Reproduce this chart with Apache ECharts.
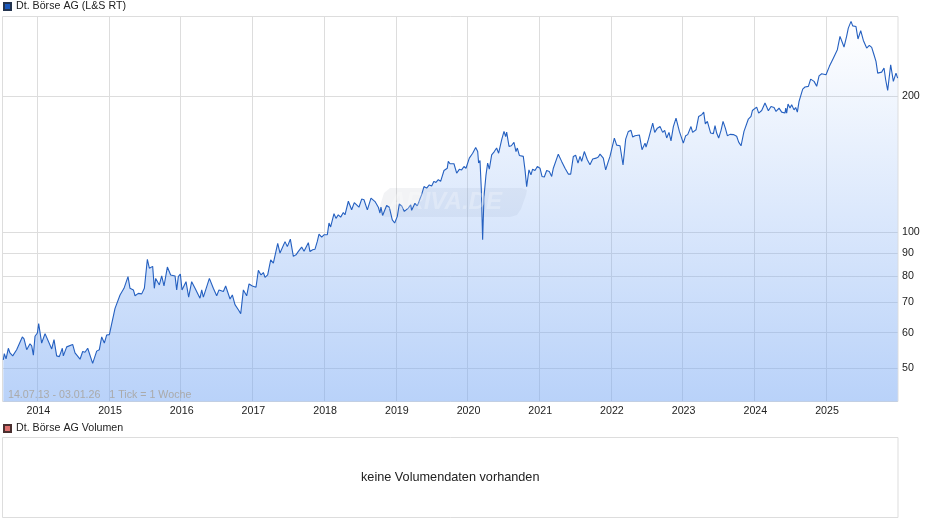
<!DOCTYPE html>
<html><head><meta charset="utf-8">
<style>html,body{margin:0;padding:0;background:#fff}#c{width:940px;height:526px}</style>
<script src="https://cdn.jsdelivr.net/npm/echarts@6/dist/echarts.min.js"></script>
</head><body><div id="c"></div>
<script>
const priceName = 'Dt. Börse AG (L&S RT)';
const volumeName = 'Dt. Börse AG Volumen';
const rangeText = '14.07.13 - 03.01.26   1 Tick = 1 Woche';
const noVolumeText = 'keine Volumendaten vorhanden';
const yearTicks = [2014,2015,2016,2017,2018,2019,2020,2021,2022,2023,2024,2025];
const priceTicks = [50,60,70,80,90,100,200];
const years = [
2013.526,2013.540,2013.564,2013.596,2013.619,2013.657,2013.712,2013.736,2013.791,2013.815,2013.852,2013.898,2013.922,2013.945,2013.968,2014.001,2014.019,2014.061,2014.108,2014.131,2014.201,2014.233,2014.270,2014.307,2014.349,2014.363,2014.410,2014.493,2014.526,2014.549,2014.596,2014.633,2014.665,2014.703,2014.772,2014.828,2014.865,2014.898,2014.935,2014.968,
2015.005,2015.084,2015.154,2015.209,2015.265,2015.293,2015.340,2015.363,2015.409,2015.456,2015.493,2015.535,2015.563,2015.609,2015.632,2015.651,2015.702,2015.735,2015.767,2015.814,2015.860,2015.921,2015.944,2015.967,2015.995,
2016.018,2016.074,2016.111,2016.153,2016.200,2016.223,2016.269,2016.293,2016.316,2016.400,2016.455,2016.502,2016.534,2016.595,2016.627,2016.688,2016.720,2016.757,2016.804,2016.837,2016.874,2016.920,2016.953,2016.999,
2017.050,2017.083,2017.120,2017.153,2017.176,2017.213,2017.255,2017.292,2017.353,2017.385,2017.455,2017.487,2017.529,2017.571,2017.608,2017.641,2017.687,2017.720,2017.780,
2017.803,2017.840,2017.873,2017.905,2017.929,2017.966,2017.998,2018.045,2018.068,2018.091,2018.138,2018.166,2018.198,2018.231,2018.268,2018.291,2018.338,2018.384,2018.421,2018.486,2018.524,2018.556,2018.603,2018.654,2018.710,2018.756,2018.779,2018.793,2018.816,2018.872,2018.909,2018.951,2018.984,
2019.021,2019.049,2019.081,2019.119,2019.174,2019.207,2019.221,2019.267,2019.300,2019.360,2019.393,2019.430,2019.467,2019.500,2019.532,2019.560,2019.593,2019.625,2019.672,2019.718,2019.732,2019.756,2019.811,2019.849,2019.886,2019.918,2019.951,2019.979,
2020.025,2020.072,2020.114,2020.142,2020.155,2020.174,2020.193,2020.211,2020.230,2020.258,2020.281,2020.304,2020.337,2020.374,2020.406,2020.434,2020.476,2020.509,2020.532,2020.546,2020.579,2020.611,2020.648,2020.676,2020.695,2020.723,2020.778,2020.802,2020.825,2020.857,2020.885,2020.908,2020.941,2020.974,
2021.011,2021.039,2021.071,2021.104,2021.141,2021.174,2021.197,2021.220,2021.266,2021.313,2021.360,2021.406,2021.439,2021.476,2021.508,2021.541,2021.569,2021.592,2021.629,2021.671,2021.708,2021.746,2021.792,2021.824,2021.848,2021.894,2021.927,2021.964,2021.987,
2022.010,2022.048,2022.080,2022.127,2022.169,2022.206,2022.243,2022.280,2022.304,2022.336,2022.397,2022.434,2022.476,2022.490,2022.522,2022.545,2022.583,2022.611,2022.648,2022.685,2022.722,2022.750,2022.778,2022.810,2022.838,2022.871,2022.908,2022.955,
2023.010,2023.043,2023.071,2023.117,2023.140,2023.187,2023.224,2023.266,2023.294,2023.317,2023.345,2023.391,2023.429,2023.452,2023.475,2023.503,2023.536,2023.564,2023.596,2023.624,2023.661,2023.708,2023.754,2023.782,2023.815,2023.856,2023.917,2023.954,2023.973,
2024.033,2024.061,2024.103,2024.149,2024.196,2024.233,2024.275,2024.303,2024.345,2024.382,2024.428,2024.438,2024.451,2024.470,2024.498,2024.521,2024.554,2024.577,2024.600,2024.624,2024.675,2024.707,2024.754,2024.786,2024.833,2024.870,2024.903,2024.940,
2025.000,2025.047,2025.102,2025.158,2025.195,2025.219,2025.251,2025.288,2025.311,2025.349,2025.372,2025.395,2025.418,2025.446,2025.484,2025.521,2025.535,2025.567,2025.604,2025.637,2025.669,2025.697,2025.721,2025.744,2025.776,2025.800,2025.809,2025.832,2025.860,2025.902,2025.939,2025.976,2025.999
];
const prices = [
52.2,53.9,52.5,55.4,54.1,53.3,55.0,54.8,58.7,58.1,55.0,56.7,56.1,53.5,58.9,59.9,62.8,56.9,59.7,59.4,55.2,57.9,53.3,53.1,55.4,53.3,55.8,56.5,54.1,54.3,52.4,54.5,54.3,55.4,51.3,54.6,55.0,58.7,56.9,59.3,
59.4,67.9,72.7,75.2,79.8,75.2,74.6,72.4,73.3,73.1,75.2,87.2,83.3,84.1,75.2,79.1,76.5,80.1,76.1,83.8,80.5,80.1,74.6,79.8,80.9,
74.6,77.8,71.9,77.8,75.2,74.6,71.5,74.6,71.9,79.1,75.2,72.4,74.6,74.0,76.1,71.2,72.7,69.2,67.4,66.1,74.6,72.4,76.9,76.1,
75.6,82.4,80.5,81.5,79.5,80.5,86.9,85.5,94.6,90.0,95.4,93.0,96.6,88.5,89.2,90.8,92.8,90.8,94.9,
90.7,91.5,91.8,95.5,99.1,97.6,98.8,98.8,104.9,102.8,110.0,107.4,109.4,108.1,110.7,109.4,117.2,112.2,116.4,113.7,118.5,118.1,112.2,119.1,117.0,113.7,110.4,113.7,109.0,114.7,113.7,106.6,104.9,
108.5,115.6,114.5,111.3,113.2,115.1,111.9,116.0,114.5,121.2,126.3,125.3,127.4,126.7,129.7,129.0,130.8,129.7,137.1,138.7,143.6,141.9,141.9,135.3,137.9,137.5,139.9,138.7,
146.0,149.7,154.2,151.0,142.4,144.3,124.2,96.3,120.1,134.1,142.4,138.0,148.5,151.0,153.7,149.7,160.3,167.3,163.0,166.7,155.0,155.5,158.2,151.0,153.7,148.0,147.3,137.5,126.3,137.5,134.1,138.0,137.1,139.9,
138.7,133.0,132.6,137.1,136.4,133.0,138.7,137.5,149.0,143.6,138.7,134.6,134.6,147.3,148.2,142.4,147.3,143.6,151.0,144.8,141.2,145.3,146.0,146.8,149.0,146.0,137.5,143.6,147.3,
146.8,161.7,156.0,155.5,141.0,160.9,167.3,168.2,162.6,163.7,164.3,152.4,157.6,154.5,160.4,160.4,174.5,166.5,170.1,171.5,166.5,168.2,161.8,166.5,159.5,171.5,179.1,167.3,
157.6,163.7,164.6,171.5,166.5,168.7,180.6,182.1,184.6,173.9,176.1,165.9,165.4,172.4,165.9,161.8,168.2,176.1,170.1,163.7,164.8,164.6,163.2,158.4,155.5,167.3,178.2,180.6,186.1,
189.4,183.7,186.1,193.3,185.8,190.0,189.0,185.2,188.4,184.6,183.7,188.4,183.7,192.3,188.4,191.6,186.7,189.0,184.6,195.0,207.6,209.8,210.5,218.4,215.9,210.5,222.1,224.4,
223.3,233.1,243.0,253.7,271.6,269.5,257.2,272.0,283.2,293.1,286.5,289.0,285.5,267.9,279.5,266.0,264.6,255.9,259.3,256.7,247.3,239.0,225.2,224.4,226.3,225.2,231.1,217.7,206.2,235.0,215.9,225.2,219.5
];
const font = '"Liberation Sans", Arial, sans-serif';
const chart = echarts.init(document.getElementById('c'), null, {renderer:'canvas'});
chart.setOption({
  animation:false,
  backgroundColor:'#fff',
  legend:[
    {data:[priceName],left:3,top:1,padding:0,itemWidth:7,itemHeight:7,selectedMode:false,textStyle:{fontFamily:font,fontSize:10.67,color:'#222'},icon:'rect'},
    {data:[volumeName],left:3,top:423,padding:0,itemWidth:7,itemHeight:7,selectedMode:false,textStyle:{fontFamily:font,fontSize:10.67,color:'#222'},icon:'rect'}
  ],
  grid:[
    {left:2.5,top:16.5,width:895.5,height:385,show:true,borderColor:'#ddd',borderWidth:1,backgroundColor:'transparent'},
    {left:2.5,top:437.5,width:895.5,height:80,show:true,borderColor:'#ddd',borderWidth:1,backgroundColor:'transparent'}
  ],
  xAxis:[
    {type:'value',gridIndex:0,min:2013.5146,max:2026.004,
      axisLine:{show:false},
      axisTick:{show:false,customValues:yearTicks},
      axisLabel:{customValues:yearTicks,formatter:v=>String(Math.round(v)),fontFamily:font,fontSize:10.67,color:'#222',margin:4,padding:[0,0,0,2]},
      splitLine:{show:true,lineStyle:{color:'#ddd',width:1}}},
    {type:'value',gridIndex:1,min:0,max:1,show:false,splitLine:{show:false}}
  ],
  yAxis:[
    {type:'log',logBase:2,gridIndex:0,position:'right',min:42.24,max:300.5,
      axisLine:{show:false},
      axisTick:{show:false,customValues:priceTicks},
      axisLabel:{customValues:priceTicks,formatter:v=>String(Math.round(v)),fontFamily:font,fontSize:10.67,color:'#222',margin:4,padding:[2,0,0,0]},
      splitLine:{show:true,lineStyle:{color:'#ddd',width:1}}},
    {type:'value',gridIndex:1,min:0,max:1,show:false,splitLine:{show:false}}
  ],
  series:[
    {name:priceName,type:'line',xAxisIndex:0,yAxisIndex:0,showSymbol:false,smooth:false,z:3,
      data:years.map((y,i)=>[y,prices[i]]),
      itemStyle:{color:'#1a58bc',borderColor:'#24344f',borderWidth:0.8},
      lineStyle:{color:'#2560c0',width:1.1},
      areaStyle:{opacity:1,origin:'start',color:{type:'linear',x:0,y:0,x2:0,y2:1,colorStops:[
        {offset:0,color:'rgba(115,165,243,0)'},{offset:1,color:'rgba(115,165,243,0.5)'}]}}},
    {name:volumeName,type:'line',xAxisIndex:1,yAxisIndex:1,data:[],
      itemStyle:{color:'#dd6f6e',borderColor:'#4a3030',borderWidth:0.8}}
  ],
  graphic:[
    {type:'polygon',z:2,silent:true,shape:{points:[[390,188],[522,188],[527,190],[526,195],[521,209],[517,215],[510,217],[385,217],[380,215],[379,209],[384,193]]},style:{fill:'rgba(110,120,140,0.09)'}},
    {type:'text',z:4,silent:true,left:389,top:190,style:{text:'ARIVA.DE',fill:'rgba(255,255,255,0.26)',font:'italic bold 24px "Liberation Sans", Arial, sans-serif'}},
    {type:'text',z:5,silent:true,left:8,top:390,style:{text:rangeText,fill:'#aaa',font:'10.67px "Liberation Sans", Arial, sans-serif'}},
    {type:'text',z:5,silent:true,left:361,top:471,style:{text:noVolumeText,fill:'#222',font:'12.7px "Liberation Sans", Arial, sans-serif'}}
  ]
});
</script></body></html>
